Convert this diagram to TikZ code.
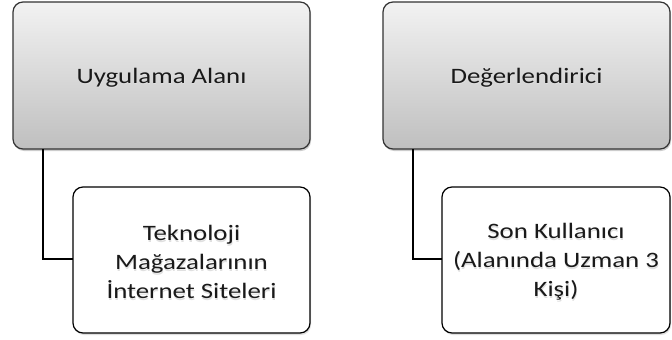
\documentclass[tikz,border=0pt]{standalone}
\usepackage{fontspec}
\setmainfont{Carlito}
\usetikzlibrary{shadows}
\begin{document}
\begin{tikzpicture}[x=1pt,y=-1pt,
  topbox/.style={draw=black!80, line width=1.2pt, rounded corners=10pt,
    top color=black!5, bottom color=black!25, drop shadow={opacity=0.4, shadow xshift=1pt, shadow yshift=-2pt}},
  subbox/.style={draw=black, line width=1.2pt, rounded corners=10pt, fill=white,
    drop shadow={opacity=0.25, shadow xshift=1pt, shadow yshift=-2pt}},
  conn/.style={draw=black, line width=2pt},
  lbl/.style={font=\fontsize{22}{29}\selectfont, align=center, text=black!90, xscale=1.22},
  lblsh/.style={lbl, text=black!12}]
\useasboundingbox (0,0) rectangle (672,340);
% left group
\draw[topbox] (13,2) rectangle (310,149);
\node[lblsh] at (162,79) {Uygulama Alanı};
\node[lbl] (ua) at (161.5,77.5) {Uygulama Alanı};
\coordinate (uaB) at (43,149);
\coordinate (tkL) at (73,259);
\draw[conn] (uaB) |- (tkL);
\draw[subbox] (73,187) rectangle (310,333);
\node[lblsh] at (192,263.5) {Teknoloji\\Mağazalarının\\İnternet Siteleri};
\node[lbl] (tk) at (191.5,262) {Teknoloji\\Mağazalarının\\İnternet Siteleri};
% right group
\draw[topbox] (383,2) rectangle (670,149);
\node[lblsh] at (527,79) {Değerlendirici};
\node[lbl] (de) at (526.5,77.5) {Değerlendirici};
\coordinate (deB) at (413,149);
\coordinate (skL) at (442,259);
\draw[conn] (deB) |- (skL);
\draw[subbox] (442,187) rectangle (670,333);
\node[lblsh] at (556.5,263.5) {Son Kullanıcı\\(Alanında Uzman 3\\Kişi)};
\node[lbl] (sk) at (556,262) {Son Kullanıcı\\(Alanında Uzman 3\\Kişi)};
\end{tikzpicture}
\end{document}
